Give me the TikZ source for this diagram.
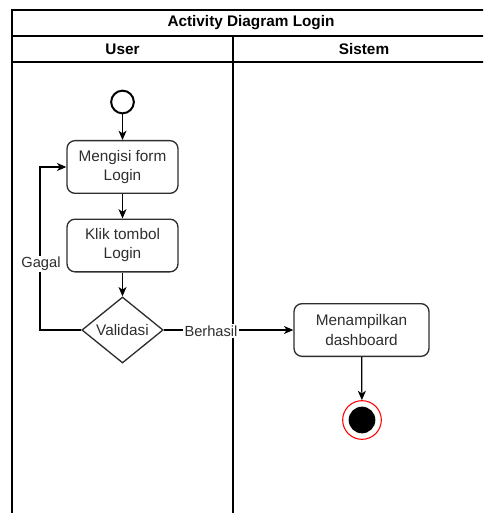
\documentclass[tikz,border=0pt]{standalone}
\usepackage{fontspec}
\setmainfont{Liberation Sans}
\usetikzlibrary{shapes.geometric,arrows.meta}
\definecolor{ink}{HTML}{2E2E2E}
\definecolor{endred}{HTML}{FF0000}
\begin{document}
\begin{tikzpicture}[x=0.75pt,y=-0.75pt,
  font=\fontsize{11.5}{14.3}\selectfont,
  frame/.style={draw=black,line width=1pt},
  action/.style={draw=ink,line width=1pt,rounded corners=6pt,minimum width=83.25pt,
    minimum height=39.5pt,align=center,text=ink,inner sep=2pt},
  decision/.style={draw=ink,line width=1pt,diamond,minimum width=61pt,minimum height=49.5pt,
    inner sep=0pt,text=ink},
  flow/.style={draw=black,line width=0.9pt,-{Stealth[length=7pt,width=6pt,inset=2pt]}},
  lbl/.style={fill=white,text=ink,inner sep=1pt,font=\fontsize{11}{13}\selectfont},
  head/.style={font=\fontsize{11.5}{14}\selectfont\bfseries,text=black}]
\useasboundingbox (0,0) rectangle (483,513);
\clip (0,0) rectangle (483,513);

% swimlane frame
\draw[frame] (12,530) -- (12,10) -- (500,10);
\draw[frame] (12,36) -- (500,36);
\draw[frame] (12,62) -- (500,62);
\draw[frame] (233,36) -- (233,530);
\node[head] (title) at (251,23) {Activity Diagram Login};
\node[head] (laneuser) at (122.5,49) {User};
\node[head] (lanesys) at (364,49) {Sistem};

% user lane
\node[draw=black,line width=1.5pt,circle,minimum size=17pt,inner sep=0pt] (start) at (122.5,102) {};
\node[action] (isi) at (122.5,167) {Mengisi form\\Login};
\node[action] (klik) at (122.5,245.5) {Klik tombol\\Login};
\node[decision] (valid) at (122.5,330) {Validasi};

% system lane
\node[action,minimum width=101.25pt] (tampil) at (361.5,330) {Menampilkan\\dashboard};
\node[circle,draw=endred,line width=0.8pt,fill=white,minimum size=29pt,inner sep=0pt] (stop) at (362,420) {};
\node[circle,fill=black,minimum size=20pt,inner sep=0pt] (stopdot) at (stop.center) {};

% flows
\draw[flow] (start) -- (isi);
\draw[flow] (isi) -- (klik);
\draw[flow] (klik) -- (valid);
\coordinate (loopdown) at (40,330);
\coordinate (loopup) at (40,167);
\draw[flow] (valid.west) -- (loopdown) -- (loopup) -- (isi.west);
\node[lbl] (gagal) at (41,264) {Gagal};
\draw[flow] (valid.east) -- (tampil.west);
\node[lbl] (berhasil) at (211,331) {Berhasil};
\draw[flow] (tampil) -- (stop);
\end{tikzpicture}
\end{document}
